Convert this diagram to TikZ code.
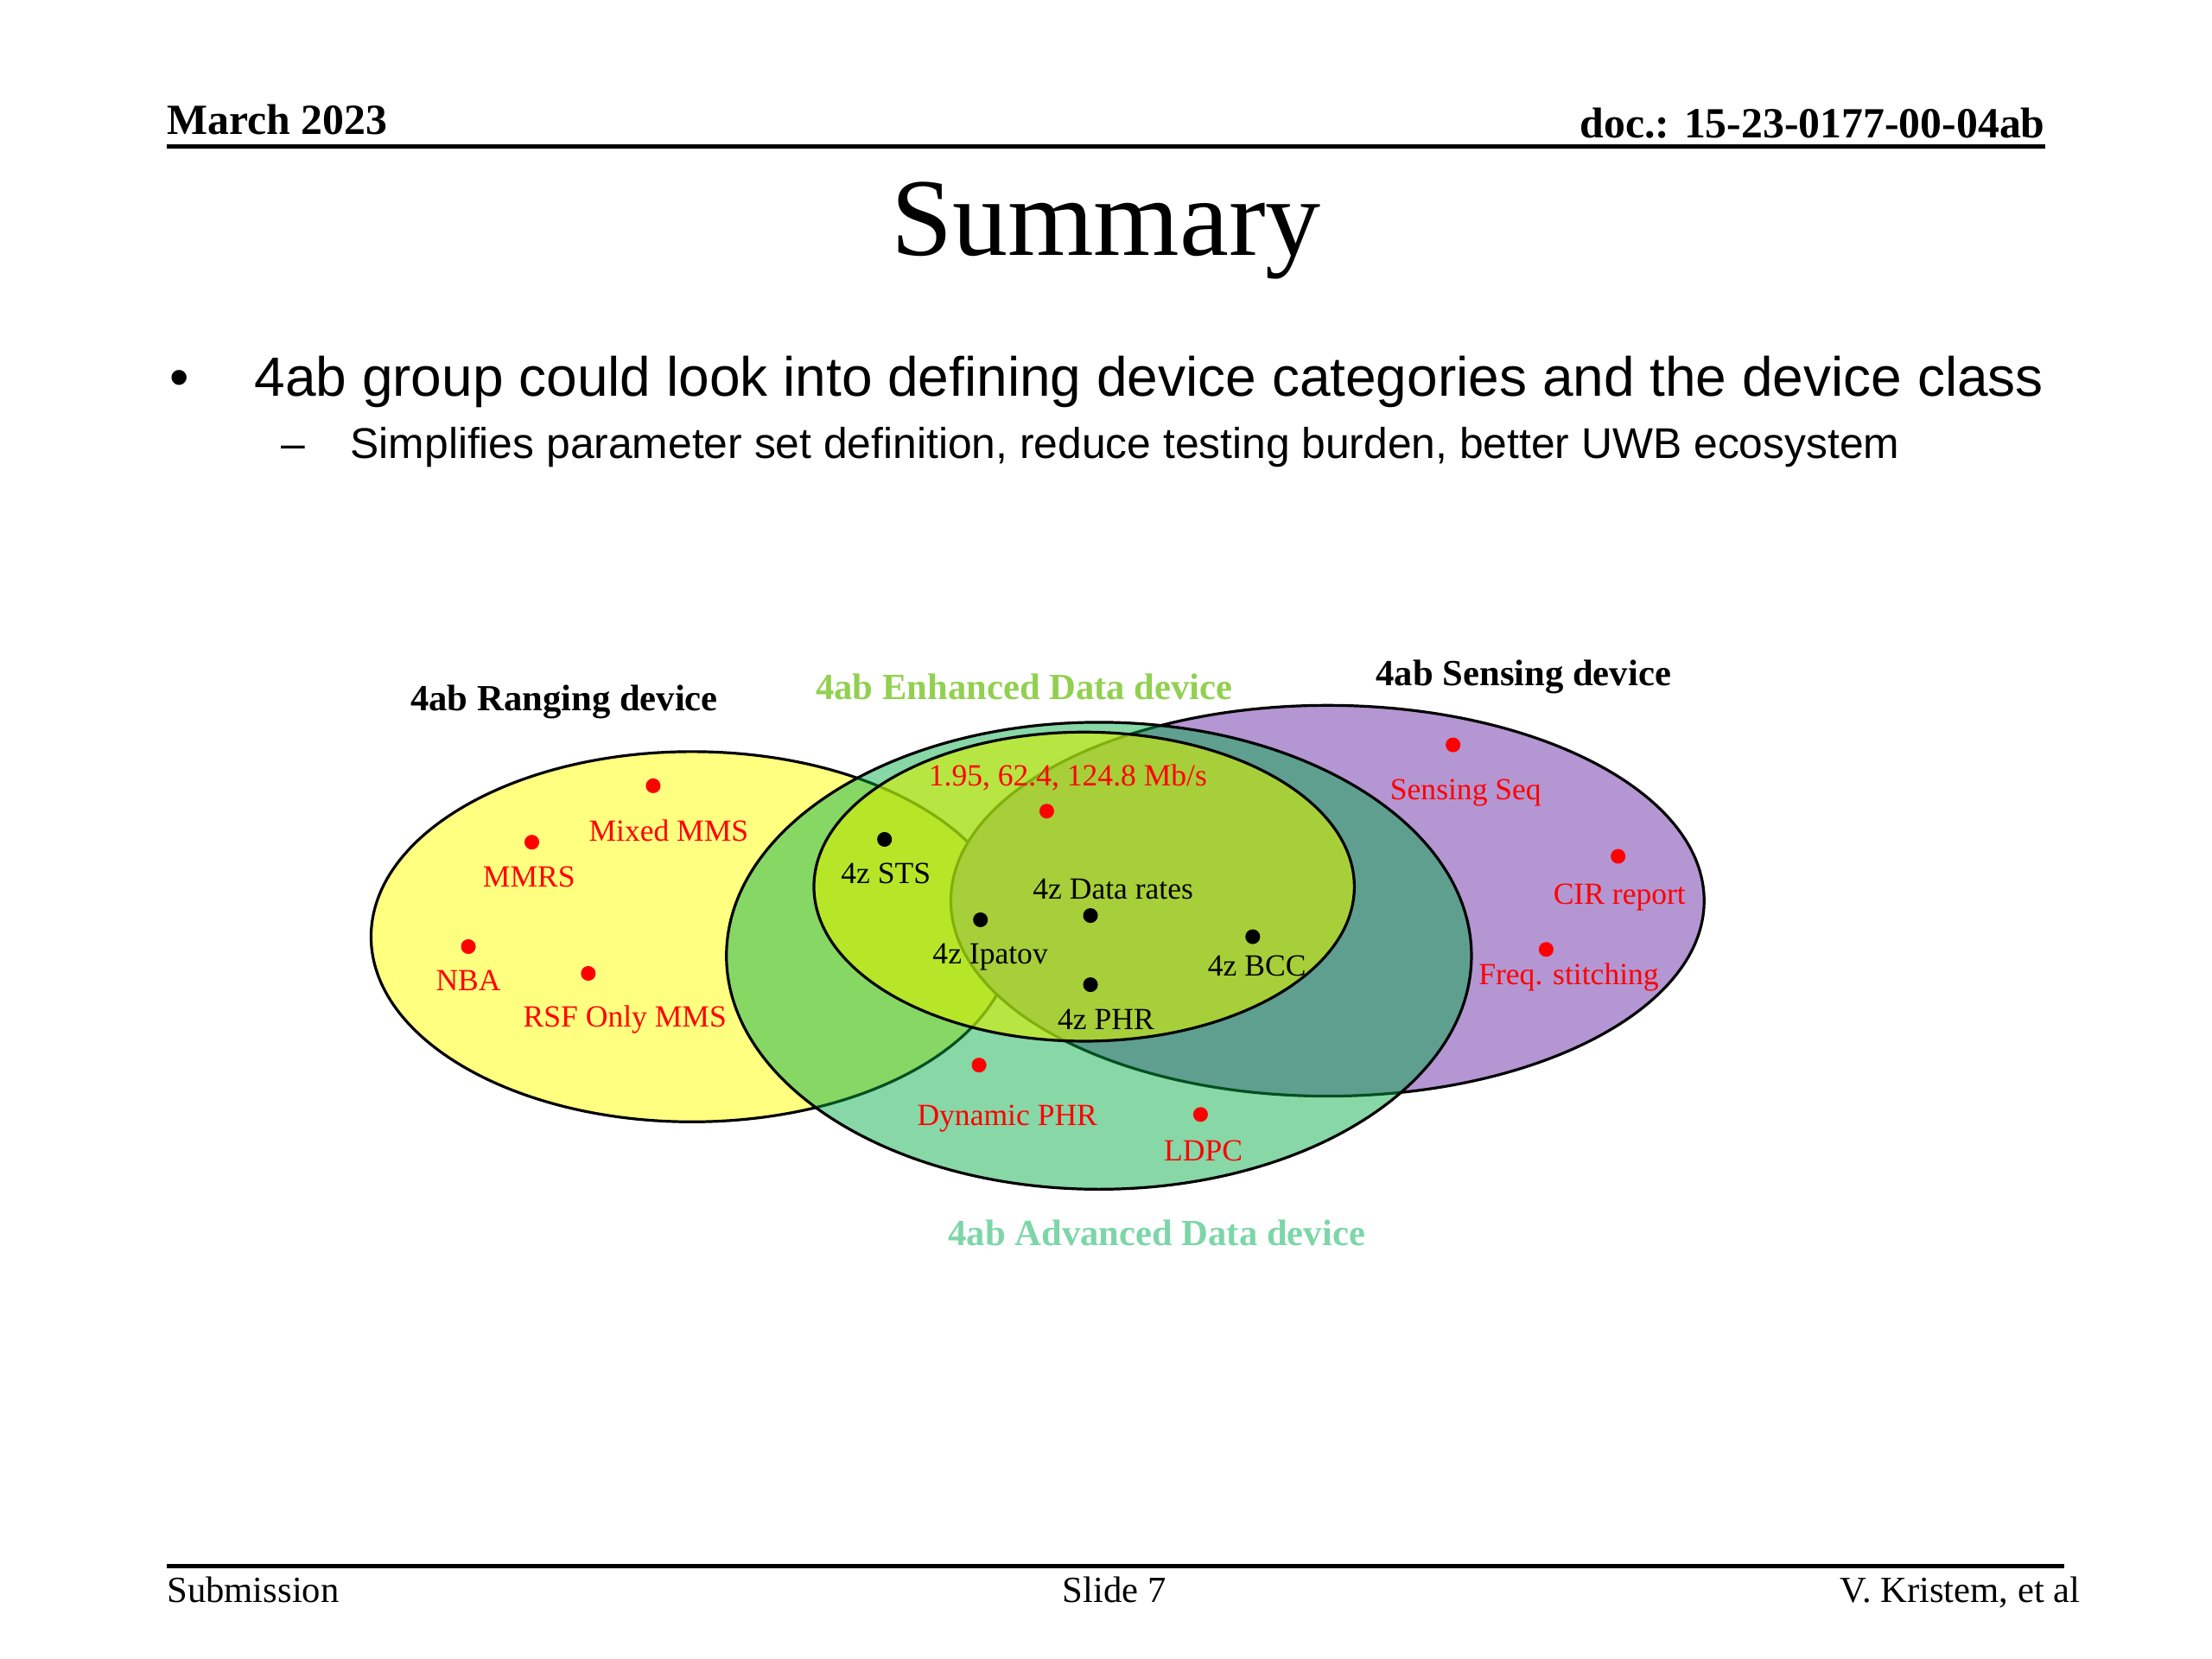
\documentclass[tikz,border=0pt]{standalone}
\usepackage{fontspec}
\setmainfont{Liberation Serif}
\newfontfamily\arialf{Liberation Sans}
\usetikzlibrary{shapes.geometric}
\definecolor{ylw}{RGB}{255,255,128}
\definecolor{purp}{RGB}{180,150,210}
\definecolor{grn}{RGB}{0,170,70}
\definecolor{innr}{RGB}{215,240,0}
\definecolor{enhc}{RGB}{146,208,80}
\definecolor{advc}{RGB}{125,214,168}
\definecolor{redt}{RGB}{255,0,0}
\begin{document}
\begin{tikzpicture}[x=0.459184pt,y=-0.459184pt,
  txt/.style={inner sep=0pt, anchor=base},
  setshape/.style={ellipse, draw=black, line width=0.9pt, inner sep=0pt},
  settitle/.style={txt, font=\fontsize{12}{14}\selectfont\bfseries},
  lbl/.style={txt, font=\fontsize{10}{12}\selectfont},
  rlbl/.style={lbl, text=redt},
  rdot/.style={circle, fill=redt, inner sep=0pt, minimum size=4.8pt},
  bdot/.style={circle, fill=black, inner sep=0pt, minimum size=4.8pt},
  rule/.style={line width=1.4pt}]
\useasboundingbox[fill=white] (0,0) rectangle (1568,1176);

% header
\node[txt, anchor=base west, font=\fontsize{14}{16}\selectfont\bfseries] (date) at (118,95) {March 2023};
\node[txt, anchor=base east, font=\fontsize{14}{16}\selectfont\bfseries] (doc) at (1450,98) {doc.: 15-23-0177-00-04ab};
\coordinate (hl) at (118,104);
\coordinate (hr) at (1450,104);
\draw[rule] (hl) -- (hr);

% title
\node[txt, font=\fontsize{36}{40}\selectfont] (title) at (784,181) {Summary};

% bullets
\node[txt, anchor=base west, font=\arialf\fontsize{18}{22}\selectfont] (bul) at (120,281) {•};
\node[txt, anchor=base west, font=\arialf\fontsize{18}{22}\selectfont] (b1) at (180,281) {4ab group could look into defining device categories and the device class};
\node[txt, anchor=base west, font=\arialf\fontsize{14}{17}\selectfont] (dash) at (199,325) {–};
\node[txt, anchor=base west, font=\arialf\fontsize{14}{17}\selectfont] (b2) at (248,325) {Simplifies parameter set definition, reduce testing burden, better UWB ecosystem};

% sets
\node[setshape, fill=ylw, minimum width=208.9pt, minimum height=120.5pt] (ranging) at (490.5,664) {};
\node[setshape, fill=purp, minimum width=245.2pt, minimum height=127.2pt] (sensing) at (941,638.5) {};
\node[setshape, fill=grn, fill opacity=0.47, minimum width=242.5pt, minimum height=152.0pt] (advanced) at (779,677.5) {};
\node[setshape, fill=innr, fill opacity=0.6, minimum width=175.9pt, minimum height=100.6pt] (enhanced) at (768.5,628.5) {};

% set titles
\node[settitle] (tranging) at (400,504) {4ab Ranging device};
\node[settitle, text=enhc] (tenhanced) at (726,496) {4ab Enhanced Data device};
\node[settitle] (tsensing) at (1080,486) {4ab Sensing device};
\node[settitle, text=advc] (tadvanced) at (820,883) {4ab Advanced Data device};

% ranging items
\node[rdot] (d1) at (463,557) {};
\node[rlbl] (l1) at (474,596) {Mixed MMS};
\node[rdot] (d2) at (377,597) {};
\node[rlbl] (l2) at (375,629) {MMRS};
\node[rdot] (d3) at (332,671) {};
\node[rlbl] (l3) at (332,702) {NBA};
\node[rdot] (d4) at (417,690) {};
\node[rlbl] (l4) at (443,728) {RSF Only MMS};

% enhanced items
\node[rlbl] (l5) at (757,557) {1.95, 62.4, 124.8 Mb/s};
\node[rdot] (d5) at (742,575) {};
\node[bdot] (d6) at (627,595) {};
\node[lbl] (l6) at (628,626) {4z STS};
\node[bdot] (d7) at (695,652) {};
\node[lbl] (l7) at (702,683) {4z Ipatov};
\node[lbl] (l8) at (789,637) {4z Data rates};
\node[bdot] (d8) at (773,649) {};
\node[bdot] (d9) at (773,698) {};
\node[lbl] (l9) at (784,730) {4z PHR};
\node[bdot] (d10) at (888,664) {};
\node[lbl] (l10) at (891,692) {4z BCC};

% sensing items
\node[rdot] (d11) at (1030,528) {};
\node[rlbl] (l11) at (1039,567) {Sensing Seq};
\node[rdot] (d12) at (1147,607) {};
\node[rlbl] (l12) at (1148,641) {CIR report};
\node[rdot] (d13) at (1096,673) {};
\node[rlbl] (l13) at (1112,698) {Freq. stitching};

% advanced items
\node[rdot] (d14) at (694,755) {};
\node[rlbl] (l14) at (714,798) {Dynamic PHR};
\node[rdot] (d15) at (851,790) {};
\node[rlbl] (l15) at (853,823) {LDPC};

% footer
\coordinate (fl) at (118,1110);
\coordinate (fr) at (1463,1110);
\draw[rule] (fl) -- (fr);
\node[txt, anchor=base west, font=\fontsize{12}{14}\selectfont] (sub) at (118,1136) {Submission};
\node[txt, font=\fontsize{12}{14}\selectfont] (slide) at (790,1136) {Slide 7};
\node[txt, anchor=base east, font=\fontsize{12}{14}\selectfont] (auth) at (1475,1136) {V. Kristem, et al};
\end{tikzpicture}
\end{document}
